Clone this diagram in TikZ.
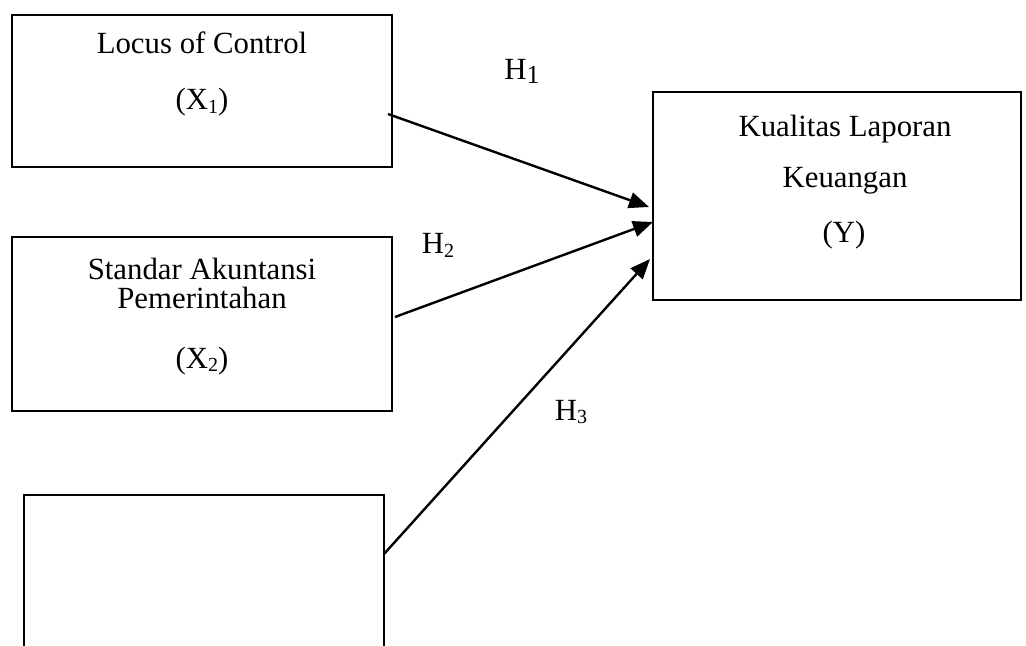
\documentclass[tikz,border=0pt]{standalone}
\usepackage{fontspec}
\setmainfont{Liberation Serif}
\usetikzlibrary{arrows.meta,calc}
\newcommand\subsc[2][10]{\raisebox{-0.25ex}{\fontsize{#1}{#1}\selectfont #2}}
\begin{document}
\begin{tikzpicture}[x=0.5pt,y=-0.5pt,
  box/.style={draw, line width=0.7pt, inner sep=0pt, outer sep=0pt, rectangle},
  txt/.style={font=\fontsize{15.4}{18}\selectfont, anchor=base, inner sep=0pt},
  arr/.style={line width=1.2pt, -{Triangle[length=10pt,width=8pt]}}]
\useasboundingbox (0,0) rectangle (1026,646);
\clip (0,0) rectangle (1026,646);
\node[box, minimum width=190pt, minimum height=76pt] (X1) at (202,91) {};
\node[box, minimum width=190pt, minimum height=87pt] (X2) at (202,324) {};
\node[box, minimum width=180pt, minimum height=100pt] (X3) at (204,595) {};
\node[box, minimum width=184pt, minimum height=104pt] (Y) at (837,196) {};
\node[txt] (t1a) at (202,54) {Locus of Control};
\node[txt] (t1b) at (202,110) {(X\subsc{1})};
\node[txt] (t2a) at (202,280) {Standar Akuntansi};
\node[txt] (t2b) at (202,308) {Pemerintahan};
\node[txt] (t2c) at (202,368) {(X\subsc{2})};
\node[txt] (ta) at (845,137) {Kualitas Laporan};
\node[txt] (tb) at (845,188) {Keuangan};
\node[txt] (tc) at (844,243) {(Y)};
\node[txt] (H1) at (522,80) {H\subsc[13]{1}};
\node[txt] (H2) at (438,254) {H\subsc{2}};
\node[txt] (H3) at (571,420) {H\subsc{3}};
\draw[arr] ($(X1.east)+(-4,23)$) -- ($(Y.west)+(-4,11)$);
\draw[arr] ($(X2.east)+(3,-7)$) -- ($(Y.west)+(0,26)$);
\draw[arr] ($(X3.north east)+(0,59)$) -- ($(Y.west)+(-3,63)$);
\end{tikzpicture}
\end{document}
